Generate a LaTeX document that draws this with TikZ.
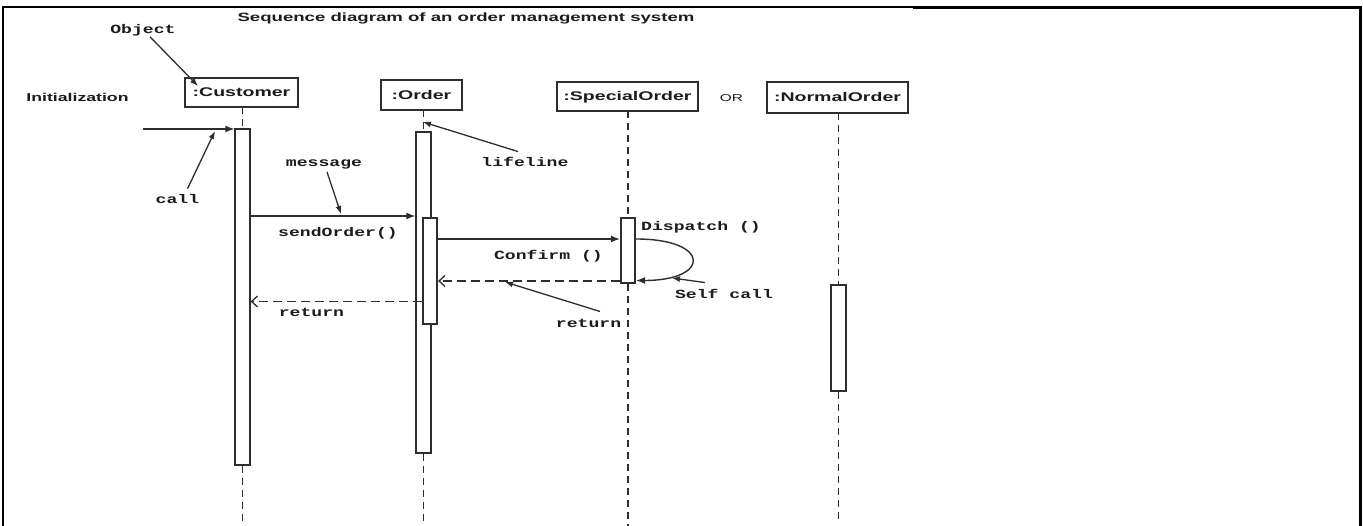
\documentclass[tikz,border=0pt]{standalone}
\usepackage{fontspec}
\setmainfont{Liberation Sans}[FakeStretch=1.55]
\newfontfamily\codefont{Liberation Mono}[FakeStretch=1.45]
\usetikzlibrary{arrows.meta,calc}
\definecolor{ink}{HTML}{2E2E2E}
\definecolor{txt}{HTML}{1C1C1C}

\begin{document}
\begin{tikzpicture}[x=1pt,y=-1pt,
  every node/.style={text=txt},
  objbox/.style={draw=ink, line width=1.8pt, fill=white, inner sep=0pt,
    text height=9pt, text depth=0pt,
    font=\fontsize{12.6}{14}\selectfont\bfseries},
  actbar/.style={draw=ink, line width=1.7pt, fill=white, minimum width=14.5pt,
    inner sep=0pt, anchor=north},
  lifeline/.style={draw=ink, line width=1.5pt, dash pattern=on 7pt off 5pt},
  msg/.style={draw=ink, line width=1.4pt, -{Latex[length=9pt,width=7pt]}},
  reply/.style={draw=ink, line width=1.4pt, dash pattern=on 9pt off 5pt,
    -{Straight Barb[length=6pt,width=11pt,line width=1.3pt]}},
  ptr/.style={draw=ink, line width=1.3pt, -{Latex[length=8pt,width=6pt]}},
  note/.style={inner sep=0pt, anchor=base,
    font=\codefont\fontsize{12.5}{14}\selectfont\bfseries},
  head/.style={inner sep=0pt, anchor=base, font=\fontsize{12}{14}\selectfont\bfseries},
]
\useasboundingbox (0,0) rectangle (1363,526);
\fill[white] (0,0) rectangle (1363,526);

% outer frame
\draw[line width=2.2pt, black] (3,527) -- (3,6.8) -- (913,6.8);
\draw[line width=2.8pt, black] (913,7.6) -- (1360.5,7.6) -- (1360.5,527);

% headings
\node[head] (title) at (466,22) {Sequence diagram of an order management system};
\node[head, font=\fontsize{11.4}{13}\selectfont\bfseries] (init) at (77.5,102) {Initialization};

% objects
\node[objbox, minimum width=113pt, minimum height=29pt] (cust) at (241.5,92.5) {:Customer};
\node[objbox, minimum width=81pt, minimum height=30pt] (ord) at (421.5,95) {:Order};
\node[objbox, minimum width=141pt, minimum height=29pt] (spec) at (627.5,96.5) {:SpecialOrder};
\node[objbox, minimum width=141pt, minimum height=31pt] (norm) at (837.5,97.5) {:NormalOrder};
\node[inner sep=0pt, anchor=base, font=\fontsize{9.9}{12}\selectfont] (orlbl) at (731.5,102) {OR};

% lifeline ends
\coordinate (cend) at (242.5,527);
\coordinate (oend) at (423.5,527);
\coordinate (send) at (628,527);
\coordinate (nend) at (838.5,522);

% lifelines (drawn below the activation bars)
\draw[lifeline] (242.5,107) -- (242.5,128);
\draw[lifeline] (423.5,110) -- (423.5,131);
\draw[lifeline] (628,111) -- (628,217);
\draw[lifeline] (838.5,113) -- (838.5,284);

% activation bars
\node[actbar, minimum height=336pt] (cbar) at (242.5,128) {};
\node[actbar, minimum height=321pt] (obar) at (423.5,131) {};
\node[actbar, minimum height=106pt] (obar2) at (430,217) {};
\node[actbar, minimum height=65pt] (sbar) at (628,217) {};
\node[actbar, minimum height=106pt] (nbar) at (838.5,284) {};

\draw[lifeline] (cbar.south) -- (cend);
\draw[lifeline] (obar.south) -- (oend);
\draw[lifeline] (sbar.south) -- (send);
\draw[lifeline] (nbar.south) -- (nend);

% messages
\coordinate (callfrom) at (143,129);
\draw[msg] (callfrom) -- (callfrom -| cbar.west);
\draw[msg] (cbar.east |- 0,216) -- (obar.west |- 0,216);
\draw[msg] (obar2.east |- 0,239) -- (sbar.west |- 0,239);
\draw[msg] (sbar.east |- 0,239) .. controls (711,239) and (711,280.5) .. (sbar.east |- 0,280.5);
\draw[reply] (sbar.west |- 0,281) -- (obar2.east |- 0,281);
\draw[reply] (obar2.west |- 0,301.5) -- (cbar.east |- 0,301.5);

% labels
\node[note] (obj) at (143,34) {Object};
\node[note] (calllbl) at (177.5,204) {call};
\node[note] (msglbl) at (324,167) {message};
\node[note] (lifelbl) at (525,167) {lifeline};
\node[note] (sendlbl) at (338,237) {sendOrder()};
\node[note] (displbl) at (701,231) {Dispatch ()};
\node[note] (conflbl) at (548.5,260) {Confirm ()};
\node[note] (selflbl) at (724,299) {Self call};
\node[note] (ret1lbl) at (588.5,328) {return};
\node[note] (ret2lbl) at (311.5,317) {return};

% annotation pointers
\coordinate (objtip) at (198,86);
\coordinate (calltip) at (215,131);
\coordinate (msgtip) at (341,214);
\coordinate (lifetip) at (423,122);
\coordinate (selftip) at (672,278);
\coordinate (rettip) at (505,282);
\draw[ptr] ($(obj.south)+(7,0)$) -- (objtip);
\draw[ptr] ($(calllbl.north)+(10,-6)$) -- (calltip);
\draw[ptr] ($(msglbl.south)+(3,2)$) -- (msgtip);
\draw[ptr] ($(lifelbl.north)+(-7,-6)$) -- (lifetip);
\draw[ptr] ($(selflbl.north)+(-19,-7)$) -- (selftip);
\draw[ptr] ($(ret1lbl.north)+(11.5,-8)$) -- (rettip);
\end{tikzpicture}
\end{document}
